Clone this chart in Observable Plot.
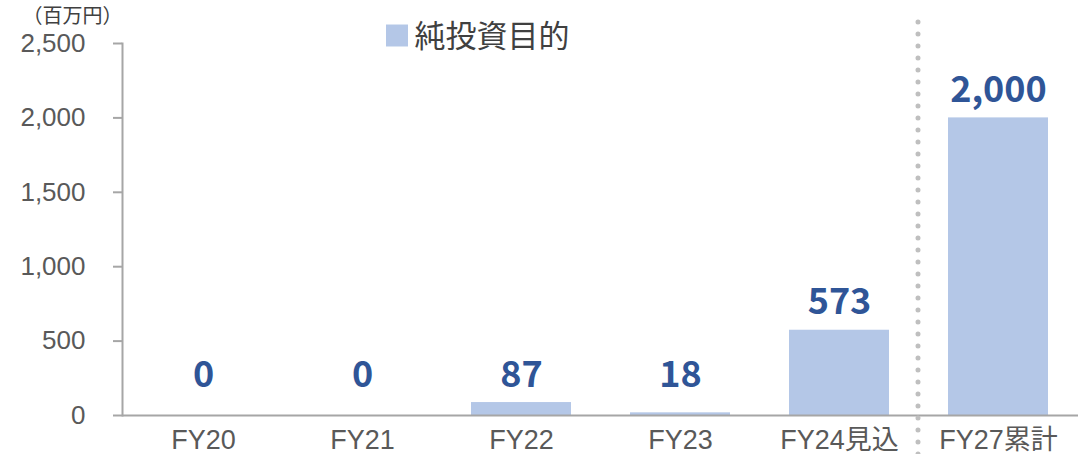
<!DOCTYPE html>
<html><head><meta charset="utf-8">
<script src="https://cdn.jsdelivr.net/npm/d3@7"></script>
<script src="https://cdn.jsdelivr.net/npm/@observablehq/plot@0.6"></script>
<style>
body{margin:0;background:#fff;}
#chart{width:1088px;height:454px;}
</style></head><body><div id="chart"></div>
<script>
const categories = ["FY20","FY21","FY22","FY23","FY24見込","FY27累計"];
const values = [0, 0, 87, 18, 573, 2000];
const yTicks = [0, 500, 1000, 1500, 2000, 2500];
const seriesName = "純投資目的";
const unitLabel = "（百万円）";
const labelFloor = 87;

const data = categories.map((c, i) => ({category: c, value: values[i]}));
const fmt = d3.format(",");
const font = "'Liberation Sans', 'Noto Sans CJK JP', sans-serif";
const cjk = "'Noto Sans CJK JP', sans-serif";

const plot = Plot.plot({
  width: 1088, height: 454,
  marginLeft: 122, marginRight: 10, marginTop: 43, marginBottom: 39,
  style: {fontFamily: font, background: "#fff", overflow: "visible"},
  x: {domain: categories, paddingInner: 0.372, paddingOuter: 0.186, label: null},
  y: {domain: [0, 2500], label: null},
  marks: [
    Plot.barY(data, {x: "category", y: "value", fill: "#b4c7e7"}),
    Plot.axisY({ticks: yTicks, tickFormat: fmt, tickSize: 9, tickPadding: 28, fontSize: 26,
      stroke: "#a6a6a6", strokeWidth: 2, fill: "#595959", label: null}),
    Plot.axisX({tickSize: 0, tickPadding: 14, fontSize: 27, fill: "#595959", label: null}),
    Plot.frame({anchor: "left", stroke: "#a6a6a6", strokeWidth: 2}),
    Plot.ruleY([0], {stroke: "#a6a6a6", strokeWidth: 2}),
    Plot.ruleX([categories[5]], {y1: -262, y2: 2695, dx: -80.5, stroke: "#bfbfbf", strokeWidth: 5,
      strokeDasharray: "0 12", strokeLinecap: "round"}),
    Plot.text(data, {x: "category", y: d => Math.max(d.value, labelFloor), text: d => fmt(d.value),
      dy: -16, lineAnchor: "bottom", fontSize: 36, fontWeight: "bold", fill: "#2f5597", fontFamily: cjk}),
    Plot.dot([seriesName], {frameAnchor: "top-left", dx: 274.5, dy: -8, symbol: "square", r: 12.4,
      fill: "#b4c7e7", stroke: null}),
    Plot.text([seriesName], {frameAnchor: "top-left", dx: 292, dy: -6, text: d => d, textAnchor: "start",
      lineAnchor: "middle", fontSize: 31, fill: "#404040", fontFamily: cjk}),
    Plot.text([unitLabel], {frameAnchor: "top-left", dx: -50, dy: -27, text: d => d, textAnchor: "middle",
      lineAnchor: "middle", fontSize: 20, fill: "#404040", fontFamily: cjk})
  ]
});
document.getElementById("chart").append(plot);
</script>
</body></html>
